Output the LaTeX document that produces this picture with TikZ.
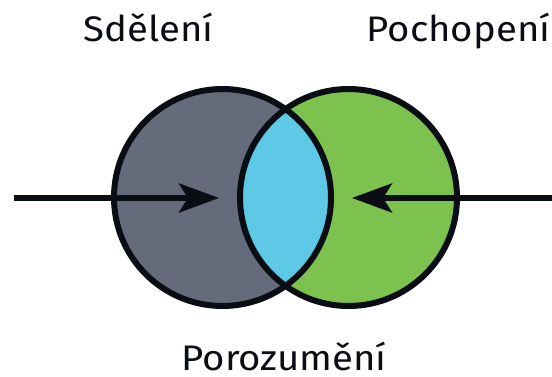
\documentclass[tikz,border=0pt]{standalone}
\usepackage{fontspec}
\setmainfont[FakeStretch=1.08]{Fira Sans}
\usetikzlibrary{arrows.meta}
\definecolor{cgrey}{HTML}{646B7B}
\definecolor{cgreen}{HTML}{7DC24F}
\definecolor{cblue}{HTML}{5DC9E6}
\definecolor{cink}{HTML}{0A0D14}
\tikzset{
  ring/.style={draw=cink, line width=6pt},
  label/.style={font=\fontsize{35.5}{40}\selectfont, text=cink, anchor=base, inner sep=0pt},
  arrowline/.style={draw=cink, line width=5.5pt, -{Stealth[length=40pt, width=29pt, inset=9pt]}}
}
\begin{document}
\begin{tikzpicture}[x=1pt, y=-1pt]
\useasboundingbox (0,0) rectangle (552,377);
\fill[white] (0,0) rectangle (552,377);
\coordinate (lc) at (222.5,197.5);
\coordinate (rc) at (348.5,197.5);
\def\rad{108.5}
\fill[cgrey] (lc) circle[radius=\rad];
\fill[cgreen] (rc) circle[radius=\rad];
\begin{scope}
  \clip (lc) circle[radius=\rad];
  \fill[cblue] (rc) circle[radius=\rad];
\end{scope}
\node[circle, minimum size=217pt, inner sep=0pt, ring] (left) at (lc) {};
\node[circle, minimum size=217pt, inner sep=0pt, ring] (right) at (rc) {};
\coordinate (ls) at (14,198);
\coordinate (lt) at (219,198);
\coordinate (rs) at (552,198);
\coordinate (rt) at (352,198);
\draw[arrowline] (ls) -- (lt);
\draw[arrowline] (rs) -- (rt);
\node[label] (t1) at (148.5,42) {Sdělení};
\node[label] (t2) at (458.5,42) {Pochopení};
\node[label] (t3) at (284,370) {Porozumění};
\end{tikzpicture}
\end{document}
